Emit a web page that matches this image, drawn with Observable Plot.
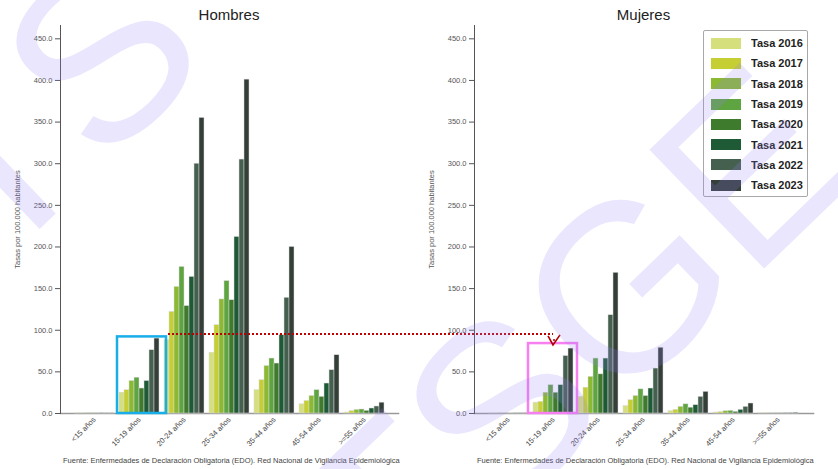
<!DOCTYPE html>
<html><head><meta charset="utf-8">
<script src="https://cdn.jsdelivr.net/npm/d3@7"></script>
<script src="https://cdn.jsdelivr.net/npm/@observablehq/plot@0.6"></script>
<style>
body{margin:0;background:#fff;font-family:"Liberation Sans",Arial,sans-serif;}
#wrap{position:relative;width:838px;height:469px;overflow:hidden;background:#fff;}
.panel{position:absolute;top:0;height:469px;overflow:hidden;}
.title{height:25px;box-sizing:border-box;padding-top:4px;line-height:22px;font-size:15px;color:#222;text-align:center;}
.layer{position:absolute;left:0;top:25px;}
.foot{position:absolute;top:453px;white-space:nowrap;font-size:7.5px;line-height:16px;color:#444;}
.ov{position:absolute;left:0;top:0;pointer-events:none;}
.legendbox{position:absolute;left:703px;top:30px;width:105px;height:167px;box-sizing:border-box;border:1px solid #a8a8a8;background:#fff;border-radius:2px;padding:2px 0 0 7px;}
</style>
</head><body>
<div id="wrap"></div>
<script>
const groups = ["<15 años","15-19 años","20-24 años","25-34 años","35-44 años","45-54 años",">=55 años"];
const years = ["Tasa 2016","Tasa 2017","Tasa 2018","Tasa 2019","Tasa 2020","Tasa 2021","Tasa 2022","Tasa 2023"];
const colors = ["#d5df7b","#c5cf33","#8bb932","#5ea440","#3f7b2c","#1f5a36","#46604f","#333f37"];
const yTicks = [0,50,100,150,200,250,300,350,400,450];
const yMax = 466;

// Hombres (tasa por 100.000 habitantes), order = groups
const hombres2016 = [0.2, 25, 88, 73, 28, 11, 1.2];
const hombres2017 = [0.2, 28, 122, 106, 40, 15, 2.8];
const hombres2018 = [0.3, 39, 152, 137, 57, 21, 4.4];
const hombres2019 = [0.3, 43, 176, 159, 66, 28, 4.8];
const hombres2020 = [0.2, 30, 129, 136, 60, 20, 3.2];
const hombres2021 = [0.3, 39, 164, 212, 94, 36, 6];
const hombres2022 = [0.4, 76, 300, 305, 139, 52, 8.4];
const hombres2023 = [0.4, 90, 355, 401, 200, 70, 13];

// Mujeres
const mujeres2016 = [0.1, 13, 20, 9, 2.8, 1.2, 0.2];
const mujeres2017 = [0.1, 14, 31, 16, 4.4, 1.6, 0.3];
const mujeres2018 = [0.2, 25, 44, 21, 8, 2.8, 0.4];
const mujeres2019 = [0.2, 34, 66, 29, 11, 3.2, 0.5];
const mujeres2020 = [0.1, 25, 47, 21, 7, 2, 0.4];
const mujeres2021 = [0.2, 34, 66, 30, 10, 4.4, 0.6];
const mujeres2022 = [0.3, 69, 118, 54, 20, 8, 0.8];
const mujeres2023 = [0.3, 78, 169, 79, 26, 12, 1];

const titles = ["Hombres","Mujeres"];
const yLabel = "Tasas por 100.000 habitantes";
const source = "Fuente: Enfermedades de Declaración Obligatoria (EDO). Red Nacional de Vigilancia Epidemiológica";
const watermarkMain = "TSGE";
const watermarkCorner = "TS";

const hombres = [hombres2016,hombres2017,hombres2018,hombres2019,hombres2020,hombres2021,hombres2022,hombres2023];
const mujeres = [mujeres2016,mujeres2017,mujeres2018,mujeres2019,mujeres2020,mujeres2021,mujeres2022,mujeres2023];
const toRows = series => series.flatMap((vals,i)=>vals.map((v,j)=>({group:groups[j],year:years[i],value:v})));

const FONT = '"Liberation Sans",Arial,sans-serif';
const TITLE_H = 25;
const wrap = document.getElementById("wrap");

function makePanel(title, rows, left, width, marginRight){
  const div = document.createElement("div");
  div.className = "panel";
  div.style.left = left + "px";
  div.style.width = width + "px";
  const t = document.createElement("div");
  t.className = "title";
  t.style.marginLeft = "60px";
  t.style.width = (width - 60 - marginRight) + "px";
  t.textContent = title;
  div.appendChild(t);
  const common = {
    width, height: 428,
    marginLeft: 60, marginRight, marginTop: 0, marginBottom: 40,
    style: {fontFamily: FONT, background: "transparent", overflow: "visible"},
    y: {domain: [0, yMax], axis: null}
  };
  // axes layer
  const axes = Plot.plot({
    ...common,
    marks: [
      Plot.frame({anchor: "bottom", stroke: "#9a9a9a", strokeWidth: 1.6}),
      Plot.frame({anchor: "left", stroke: "#555", strokeWidth: 1}),
      Plot.axisY({ticks: yTicks, tickFormat: d => d.toFixed(1), tickSize: 5, tickPadding: 3,
        fontSize: 7.5, color: "#555", label: yLabel, labelAnchor: "center", labelArrow: "none", labelOffset: 46})
    ]
  });
  axes.classList.add("layer");
  div.appendChild(axes);
  // bars layer
  const plot = Plot.plot({
    ...common,
    fx: {domain: groups, paddingInner: 0.111, paddingOuter: 0.311, axis: null, label: null},
    x: {domain: years, padding: 0, axis: null},
    color: {domain: years, range: colors},
    marks: [
      Plot.barY(rows, {fx: "group", x: "year", y: "value", fill: "year", stroke: "#d9d9d9", strokeWidth: 0.5}),
      Plot.axisFx({anchor: "bottom", tickRotate: -45, tickSize: 0, tickPadding: 5, fontSize: 7.5, color: "#444", label: null})
    ]
  });
  plot.classList.add("layer");
  div.appendChild(plot);
  const f = document.createElement("div");
  f.className = "foot";
  f.style.left = "63px";
  f.textContent = source;
  div.appendChild(f);
  wrap.appendChild(div);
  return plot;
}

const L = makePanel(titles[0], toRows(hombres), 0, 414, 16);
const R = makePanel(titles[1], toRows(mujeres), 414, 424, 25);

// legend
const lg = document.createElement("div");
lg.className = "legendbox";
lg.appendChild(Plot.legend({color: {domain: years, range: colors}, legend: "swatches", columns: 1,
  swatchWidth: 30, swatchHeight: 11, style: {fontFamily: FONT}}));
wrap.appendChild(lg);
lg.querySelectorAll("svg").forEach(s => {
  s.style.marginRight = "10px";
  const row = s.parentElement;
  row.style.height = "20.3px"; row.style.display = "flex"; row.style.alignItems = "center";
  row.style.paddingBottom = "0"; row.style.margin = "0";
});
lg.querySelectorAll("div").forEach(d => { d.style.fontSize = "11px"; d.style.fontWeight = "bold"; d.style.color = "#222"; });

// annotations, positioned from the plots' own scales
const Lfx = L.scale("fx"), Ly = L.scale("y"), Rfx = R.scale("fx"), Ry = R.scale("y");
const ov = d3.select(wrap).append("svg").attr("class","ov").attr("width",838).attr("height",469);
const g15 = groups[1], g20 = groups[2];
// blue box (Hombres 15-19)
const bx = Lfx.apply(g15), bw = Lfx.bandwidth;
ov.append("rect").attr("x", bx - 2).attr("y", TITLE_H + Ly.apply(92)).attr("width", bw + 9)
  .attr("height", Ly.apply(0) - Ly.apply(92)).attr("fill","none").attr("stroke","#18aee8").attr("stroke-width",2.5);
// pink box (Mujeres 15-19)
const px = 414 + Rfx.apply(g15), pw = Rfx.bandwidth;
ov.append("rect").attr("x", px - 5).attr("y", TITLE_H + Ry.apply(84)).attr("width", pw + 9)
  .attr("height", Ry.apply(0) - Ry.apply(84)).attr("fill","none").attr("stroke","#f77ff0").attr("stroke-width",2.5);
// red dotted line
const ry = TITLE_H + Ly.apply(95);
const rx1 = Lfx.apply(g20) + 4, rx2 = px + pw / 2;
ov.append("line").attr("x1", rx1).attr("x2", rx2).attr("y1", ry).attr("y2", ry)
  .attr("stroke","#c00000").attr("stroke-width",2).attr("stroke-dasharray","2,2");
ov.append("polyline").attr("points", `${rx2-5},${ry+2} ${rx2},${ry+11} ${rx2+7},${ry+1}`)
  .attr("fill","none").attr("stroke","#b00000").attr("stroke-width",1.6);
ov.append("circle").attr("cx", rx2+1).attr("cy", ry+6).attr("r",1).attr("fill","#b00000");

// translucent watermark over the whole picture
const wm = d3.select(wrap).append("svg").attr("class","ov").attr("width",838).attr("height",469);
[[watermarkMain, 395, 625], [watermarkCorner, -5, 272]].forEach(([txt, x, y]) => {
  wm.append("text").attr("transform", `translate(${x},${y}) rotate(-44)`)
    .attr("font-family", FONT).attr("font-size", 240)
    .attr("fill","rgb(150,130,245)").attr("fill-opacity",0.2).text(txt);
});
</script>
</body></html>
